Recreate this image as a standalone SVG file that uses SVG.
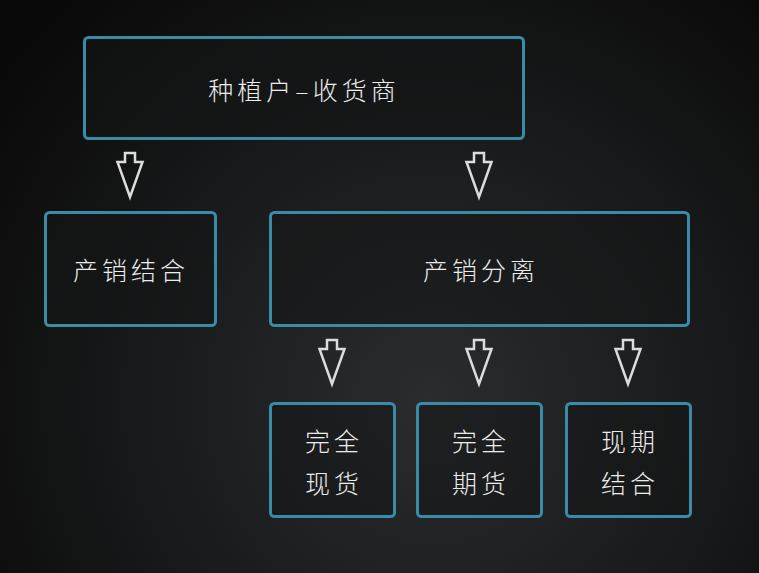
<svg xmlns="http://www.w3.org/2000/svg" width="759" height="573" viewBox="0 0 759 573">
<defs>
<radialGradient id="bg" cx="430" cy="400" r="540" gradientUnits="userSpaceOnUse">
<stop offset="0" stop-color="#2a2c2e"/>
<stop offset="0.55" stop-color="#18191a"/>
<stop offset="1" stop-color="#090909"/>
</radialGradient>
<path id="arr" d="M-5,0 H5 V9 H12.5 L0,44 L-12.5,9 H-5 Z"/>
</defs>
<style>
.box{fill:#141516;fill-opacity:0.55;stroke:#3a8ba8;stroke-width:3}
.t{font-family:"Noto Sans CJK SC","Noto Sans",sans-serif;font-weight:300;font-size:25px;fill:#ececec;text-anchor:middle;letter-spacing:4px}
.a{fill:none;stroke:#dcdcdc;stroke-width:2.5;stroke-linejoin:miter}
</style>
<rect width="759" height="573" fill="url(#bg)"/>
<g id="connectors">
<use href="#arr" class="a" x="130" y="153"/>
<use href="#arr" class="a" x="479" y="153"/>
<use href="#arr" class="a" x="332" y="340"/>
<use href="#arr" class="a" x="479" y="340"/>
<use href="#arr" class="a" x="628" y="340"/>
</g>
<g id="n1"><rect class="box" x="84.5" y="37.5" width="439" height="101" rx="4"/><text class="t" x="304" y="100">种植户–收货商</text></g>
<g id="n2"><rect class="box" x="45.5" y="212.5" width="170" height="113" rx="4"/><text class="t" x="131" y="280">产销结合</text></g>
<g id="n3"><rect class="box" x="270.5" y="212.5" width="418" height="113" rx="4"/><text class="t" x="481" y="280">产销分离</text></g>
<g id="n4"><rect class="box" x="270.5" y="403.5" width="124" height="113" rx="4"/><text class="t" x="334" y="451">完全</text><text class="t" x="334" y="493">现货</text></g>
<g id="n5"><rect class="box" x="417.5" y="403.5" width="124" height="113" rx="4"/><text class="t" x="481" y="451">完全</text><text class="t" x="481" y="493">期货</text></g>
<g id="n6"><rect class="box" x="566.5" y="403.5" width="124" height="113" rx="4"/><text class="t" x="630" y="451">现期</text><text class="t" x="630" y="493">结合</text></g>
</svg>
